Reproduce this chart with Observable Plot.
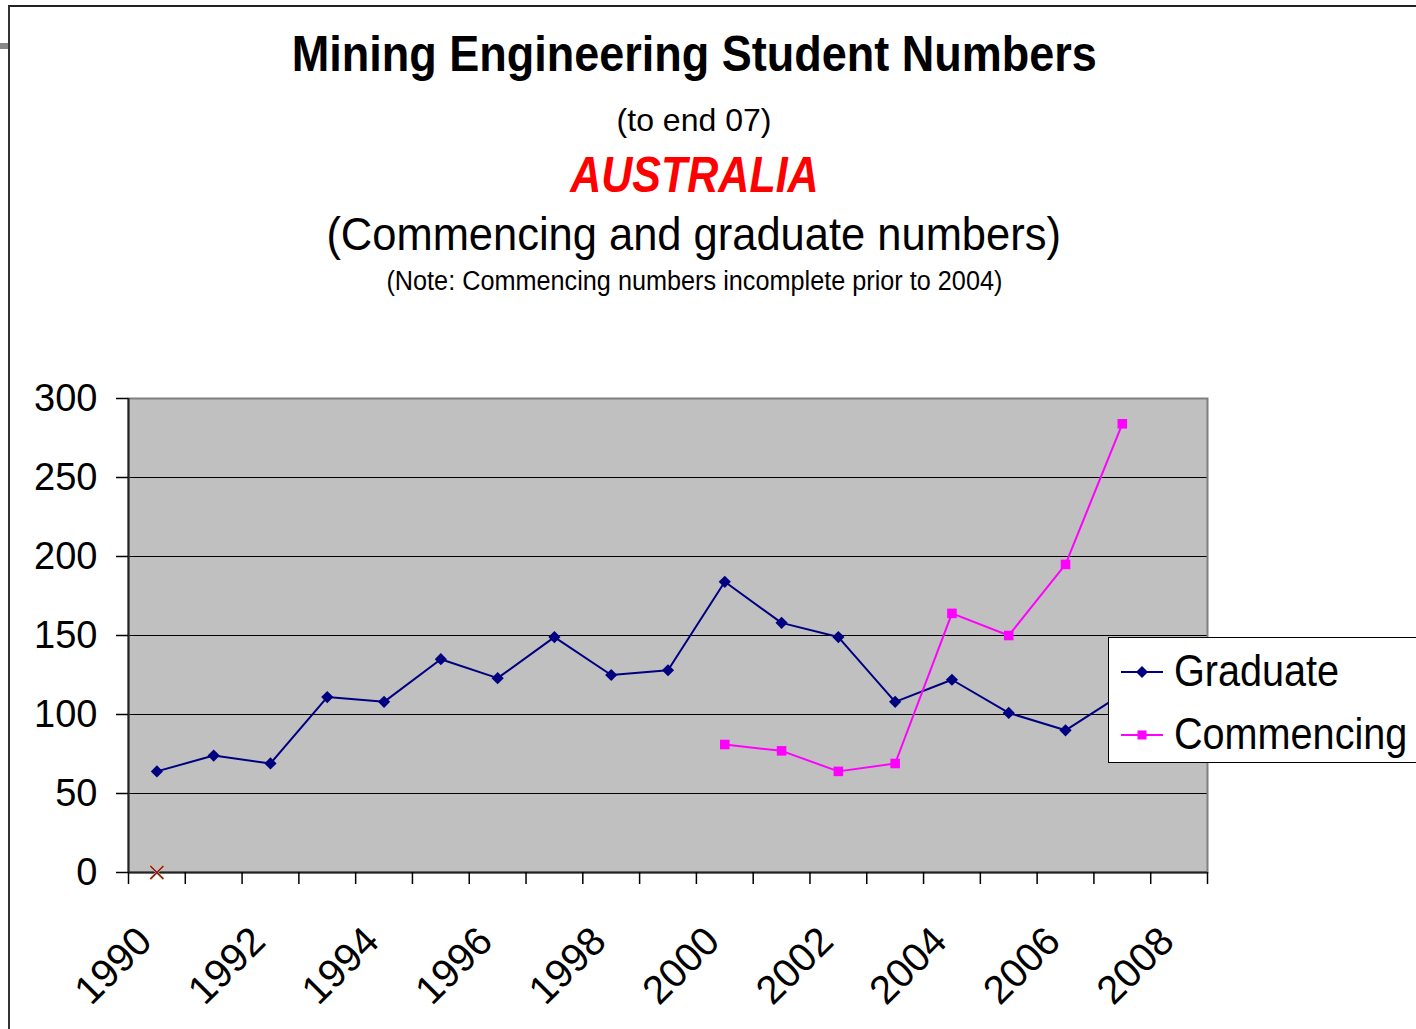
<!DOCTYPE html>
<html><head><meta charset="utf-8">
<script src="https://cdn.jsdelivr.net/npm/d3@7"></script>
<script src="https://cdn.jsdelivr.net/npm/@observablehq/plot@0.6"></script>
<style>
html,body{margin:0;padding:0;background:#fff;overflow:hidden;}
#page{position:relative;width:1416px;height:1029px;overflow:hidden;font-family:"Liberation Sans",Arial,sans-serif;color:#000;}
.frame{position:absolute;left:8px;top:5px;width:1420px;height:1040px;border-top:2px solid #222;border-left:2px solid #333;}
.gm{position:absolute;left:0;top:43px;width:8px;height:6px;background:#888;}
.t{position:absolute;left:0;width:1388px;text-align:center;line-height:1;white-space:nowrap;}
.t span{display:inline-block;transform-origin:50% 50%;}
#chart{position:absolute;left:0;top:340px;}
#legend{position:absolute;left:1108px;top:637px;width:330px;height:124px;border:1px solid #000;background:#fff;}
.li{position:absolute;left:0;height:50px;width:330px;}
.li svg{position:absolute;left:0;top:0;}
.li span{position:absolute;left:65px;top:-1px;font-size:44px;line-height:50px;transform:scaleX(0.9);transform-origin:0 50%;white-space:nowrap;}
</style></head>
<body>
<div id="page">
  <div class="frame"></div>
  <div class="gm"></div>
  <div class="t" style="top:28.7px;font-size:50px;font-weight:bold;"><span style="transform:scaleX(0.9)">Mining Engineering Student Numbers</span></div>
  <div class="t" style="top:104px;font-size:32px;"><span>(to end 07)</span></div>
  <div class="t" style="top:149.7px;font-size:50px;font-weight:bold;font-style:italic;color:#ff0000;"><span style="transform:scaleX(0.86)">AUSTRALIA</span></div>
  <div class="t" style="top:211px;font-size:46px;"><span style="transform:scaleX(0.945)">(Commencing and graduate numbers)</span></div>
  <div class="t" style="top:268px;font-size:27px;"><span style="transform:scaleX(0.935)">(Note: Commencing numbers incomplete prior to 2004)</span></div>
  <div id="chart"></div>
  <div id="legend">
    <div class="li" style="top:9px;">
      <svg width="66" height="50"><line x1="12" y1="25" x2="54" y2="25" stroke="#000080" stroke-width="2"/><path d="M33,19 L39,25 L33,31 L27,25 Z" fill="#000080"/></svg>
      <span>Graduate</span>
    </div>
    <div class="li" style="top:72px;">
      <svg width="66" height="50"><line x1="12" y1="25" x2="54" y2="25" stroke="#ff00ff" stroke-width="2"/><rect x="28.5" y="20.5" width="9" height="9" fill="#ff00ff"/></svg>
      <span>Commencing</span>
    </div>
  </div>
</div>
<script>
// Categories (years) on the x axis
const categories = [1990,1991,1992,1993,1994,1995,1996,1997,1998,1999,2000,2001,2002,2003,2004,2005,2006,2007,2008];
const labelYears = [1990,1992,1994,1996,1998,2000,2002,2004,2006,2008];
const yTicks = [0,50,100,150,200,250,300];

// Graduate series
const gradYears = [1990,1991,1992,1993,1994,1995,1996,1997,1998,1999,2000,2001,2002,2003,2004,2005,2006,2007];
const graduate  = [64,74,69,111,108,135,123,149,125,128,184,158,149,108,122,101,90,113];

// Commencing series
const commYears  = [2000,2001,2002,2003,2004,2005,2006,2007];
const commencing = [81,77,64,69,164,150,195,284];

// Stray marker at origin
const markerYears = [1990];
const markerValues = [0];

const gradData = gradYears.map((y,i)=>({year:y, value:graduate[i]}));
const commData = commYears.map((y,i)=>({year:y, value:commencing[i]}));
const markData = markerYears.map((y,i)=>({year:y, value:markerValues[i]}));
const boundaries = categories.map(c=>c-0.5).concat([categories[categories.length-1]+0.5]);

const chart = Plot.plot({
  width:1416, height:689,
  marginTop:58, marginBottom:157, marginLeft:128, marginRight:209,
  style:{fontFamily:'"Liberation Sans", Arial, sans-serif', background:"transparent", color:"#000", overflow:"visible"},
  x:{domain:[boundaries[0], boundaries[boundaries.length-1]], axis:null},
  y:{domain:[0,300], axis:null},
  marks:[
    Plot.frame({fill:"#c0c0c0", stroke:"none"}),
    Plot.ruleY(yTicks.filter(v=>v>0 && v<300), {stroke:"#000", strokeWidth:1.2}),
    Plot.frame({stroke:"#808080", strokeWidth:2}),
    Plot.ruleX([boundaries[0]], {stroke:"#222", strokeWidth:2}),
    Plot.ruleY([0], {stroke:"#222", strokeWidth:2}),
    Plot.axisY({ticks:yTicks, tickSize:12, tickPadding:19, fontSize:38, label:null, tickFormat:d=>String(d), strokeWidth:1.5}),
    Plot.axisX({ticks:boundaries, tickSize:12, tickFormat:()=>"", label:null, strokeWidth:1.5}),
    Plot.axisX({ticks:labelYears, tickSize:0, tickPadding:62, tickRotate:-45, fontSize:40, dx:-12, label:null, tickFormat:d=>String(d)}),
    Plot.line(gradData, {x:"year", y:"value", stroke:"#000080", strokeWidth:2}),
    Plot.dot(gradData, {x:"year", y:"value", symbol:"diamond2", fill:"#000080", r:5.5}),
    Plot.line(commData, {x:"year", y:"value", stroke:"#ff00ff", strokeWidth:2}),
    Plot.dot(commData, {x:"year", y:"value", symbol:"square", fill:"#ff00ff", r:5.4}),
    Plot.dot(markData, {x:"year", y:"value", symbol:"times", stroke:"#e8d800", strokeWidth:2.5, r:6}),
    Plot.dot(markData, {x:"year", y:"value", symbol:"times", stroke:"#800080", strokeWidth:1.4, r:6})
  ]
});
document.getElementById("chart").appendChild(chart);
</script>
</body></html>
